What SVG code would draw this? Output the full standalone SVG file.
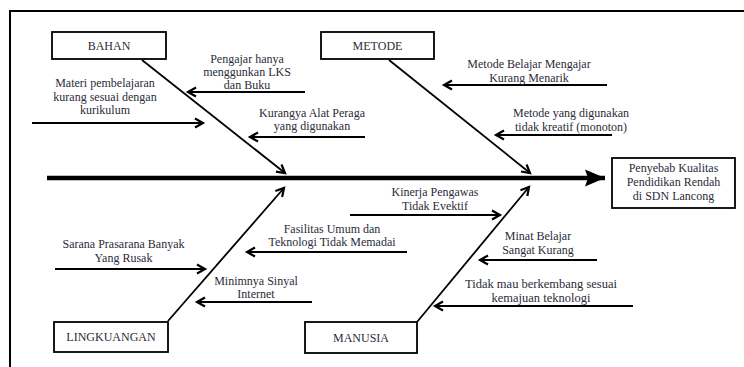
<svg xmlns="http://www.w3.org/2000/svg" width="744" height="367" viewBox="0 0 744 367">
<defs>
<marker id="ah" markerUnits="userSpaceOnUse" markerWidth="14" markerHeight="14" viewBox="-10 -7 12 14" refX="0" refY="0" orient="auto">
<path d="M-8,-4.5 L0,0 L-8,4.5" fill="none" stroke="#000" stroke-width="2.2" stroke-linejoin="miter"/>
</marker>
<marker id="big" markerUnits="userSpaceOnUse" markerWidth="26" markerHeight="22" viewBox="-24 -11 26 22" refX="0" refY="0" orient="auto">
<path d="M-20,-8.5 L0,0 L-20,8.5 L-17,0 Z" fill="#000"/>
</marker>
</defs>
<style>
text{font-family:"Liberation Serif","Times New Roman",serif;font-size:12px;fill:#2b2b38;text-anchor:middle}
.box rect{fill:#fff;stroke:#000;stroke-width:1.8}
.c line{stroke:#000;stroke-width:2;marker-end:url(#ah)}
</style>
<rect x="0" y="0" width="744" height="367" fill="#fff"/>
<path d="M10,367 V11 H744" fill="none" stroke="#000" stroke-width="2"/>

<g id="connectors" class="c">
<line x1="47" y1="178" x2="605" y2="178" style="stroke-width:4.5;marker-end:url(#big)"/>
<line x1="142" y1="60" x2="285" y2="173" style="stroke-width:1.8"/>
<line x1="389" y1="60" x2="530" y2="173" style="stroke-width:1.8"/>
<line x1="168" y1="321" x2="284" y2="188" style="stroke-width:1.8"/>
<line x1="417" y1="322" x2="529" y2="187" style="stroke-width:1.8"/>
<line x1="305" y1="92" x2="188" y2="92"/>
<line x1="32" y1="123" x2="203" y2="123"/>
<line x1="365" y1="137" x2="250" y2="137"/>
<line x1="607" y1="85" x2="444" y2="85"/>
<line x1="612" y1="135" x2="496" y2="135"/>
<line x1="350" y1="215" x2="500" y2="215"/>
<line x1="407" y1="252" x2="247" y2="252"/>
<line x1="55" y1="269" x2="205" y2="269"/>
<line x1="312" y1="302" x2="197" y2="302"/>
<line x1="597" y1="260" x2="480" y2="260"/>
<line x1="633" y1="306" x2="435" y2="306"/>
</g>

<g id="bahan" class="box"><rect x="52" y="32" width="114" height="27"/><text x="109" y="49.5">BAHAN</text></g>
<g id="metode" class="box"><rect x="321" y="32" width="113" height="27"/><text x="377.5" y="49.5">METODE</text></g>
<g id="lingkuangan" class="box"><rect x="54" y="322" width="114" height="30"/><text x="111" y="341">LINGKUANGAN</text></g>
<g id="manusia" class="box"><rect x="305" y="322" width="112" height="31"/><text x="361" y="342">MANUSIA</text></g>
<g id="effect" class="box"><rect x="612" y="158" width="123" height="50"/><text x="673.5" y="172">Penyebab Kualitas</text><text x="673.5" y="186">Pendidikan Rendah</text><text x="673.5" y="200">di SDN Lancong</text></g>

<g id="c-pengajar"><text x="247" y="63">Pengajar hanya</text><text x="247" y="76">menggunkan LKS</text><text x="247" y="89">dan Buku</text></g>
<g id="c-materi"><text x="105" y="87">Materi pembelajaran</text><text x="105" y="101">kurang sesuai dengan</text><text x="105" y="114">kurikulum</text></g>
<g id="c-kurangya"><text x="312" y="117">Kurangya Alat Peraga</text><text x="312" y="130">yang digunakan</text></g>
<g id="c-metode1"><text x="529" y="68">Metode Belajar Mengajar</text><text x="529" y="82">Kurang Menarik</text></g>
<g id="c-metode2"><text x="571" y="117">Metode yang digunakan</text><text x="571" y="131">tidak kreatif (monoton)</text></g>
<g id="c-kinerja"><text x="435" y="196">Kinerja  Pengawas</text><text x="435" y="210">Tidak Evektif</text></g>
<g id="c-fasilitas"><text x="332" y="233">Fasilitas Umum dan</text><text x="332" y="246">Teknologi Tidak Memadai</text></g>
<g id="c-sarana"><text x="123.5" y="248">Sarana Prasarana Banyak</text><text x="123.5" y="262">Yang Rusak</text></g>
<g id="c-minimnya"><text x="256" y="285">Minimnya Sinyal</text><text x="256" y="298">Internet</text></g>
<g id="c-minat"><text x="538" y="240">Minat Belajar</text><text x="538" y="254">Sangat Kurang</text></g>
<g id="c-tidak"><text x="541" y="288" style="font-size:12.5px">Tidak mau berkembang sesuai</text><text x="541" y="302" style="font-size:12.5px">kemajuan teknologi</text></g>
</svg>
